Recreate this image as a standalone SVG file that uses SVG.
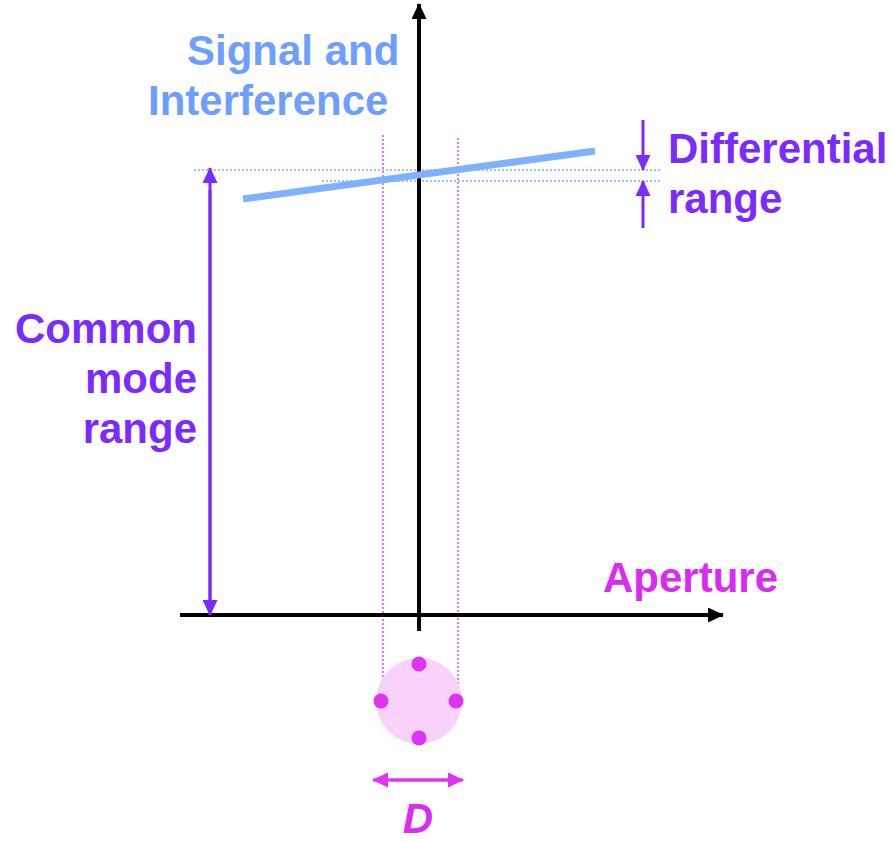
<svg xmlns="http://www.w3.org/2000/svg" width="892" height="841" viewBox="0 0 892 841">
<style>
text{font-family:"Liberation Sans",Arial,sans-serif;font-weight:bold;font-size:42px}
.pur{fill:#7b2bff}
.mag{fill:#d92cf2}
.blu{fill:#6e9eff}
.axis{stroke:#000;stroke-width:4;fill:none}
.pl{stroke:#7b2bff;stroke-width:3;fill:none}
.bd{stroke:#7eaaff;stroke-width:1.5;stroke-dasharray:2 2;fill:none}
.md{stroke:#e04cf5;stroke-width:1.5;stroke-dasharray:2 2;fill:none}
</style>
<defs>
<marker id="ak" viewBox="0 0 16 15" markerWidth="16" markerHeight="15" refX="15" refY="7.5" orient="auto" markerUnits="userSpaceOnUse"><path d="M0,0 L16,7.5 L0,15 z" fill="#000"/></marker>
<marker id="ap" viewBox="0 0 16 15" markerWidth="16" markerHeight="15" refX="15" refY="7.5" orient="auto" markerUnits="userSpaceOnUse"><path d="M0,0 L16,7.5 L0,15 z" fill="#7b2bff"/></marker>
<marker id="am" viewBox="0 0 16 15" markerWidth="16" markerHeight="15" refX="15" refY="7.5" orient="auto" markerUnits="userSpaceOnUse"><path d="M0,0 L16,7.5 L0,15 z" fill="#dd33f2"/></marker>
</defs>
<g id="guides">
<line class="bd" x1="194" y1="170" x2="660" y2="170"/>
<line class="bd" x1="322" y1="181" x2="660" y2="181"/>
<line class="md" x1="383" y1="135" x2="383" y2="700"/>
<line class="md" x1="458" y1="138" x2="458" y2="700"/>
</g>
<g id="axes">
<line class="axis" x1="419" y1="631" x2="419" y2="4" marker-end="url(#ak)"/>
<line class="axis" x1="180" y1="615" x2="723" y2="615" marker-end="url(#ak)"/>
</g>
<g id="signal-line">
<line x1="243" y1="199" x2="595" y2="151" stroke="#7eb1ff" stroke-width="7"/>
</g>
<g id="connectors">
<line class="pl" x1="210" y1="600" x2="210" y2="168" marker-end="url(#ap)"/>
<line class="pl" x1="210" y1="190" x2="210" y2="615" marker-end="url(#ap)"/>
<line class="pl" x1="643" y1="120" x2="643" y2="170" marker-end="url(#ap)"/>
<line class="pl" x1="643" y1="228" x2="643" y2="181" marker-end="url(#ap)"/>
<line x1="390" y1="780" x2="463" y2="780" stroke="#dd33f2" stroke-width="3" marker-end="url(#am)"/>
<line x1="450" y1="780" x2="373" y2="780" stroke="#dd33f2" stroke-width="3" marker-end="url(#am)"/>
</g>
<g id="aperture-array">
<circle cx="419" cy="701" r="43" fill="#f9d2fb"/>
<circle cx="419" cy="664" r="7.5" fill="#dd33f2"/>
<circle cx="381" cy="701" r="7.5" fill="#dd33f2"/>
<circle cx="456" cy="701" r="7.5" fill="#dd33f2"/>
<circle cx="419" cy="738" r="7.5" fill="#dd33f2"/>
</g>
<g id="labels">
<text class="blu" x="187" y="65">Signal and</text>
<text class="blu" x="148" y="115">Interference</text>
<text class="pur" x="668" y="163">Differential</text>
<text class="pur" x="668" y="213">range</text>
<text class="pur" x="197" y="343" text-anchor="end">Common</text>
<text class="pur" x="197" y="393" text-anchor="end">mode</text>
<text class="pur" x="197" y="443" text-anchor="end">range</text>
<text class="mag" x="603" y="592">Aperture</text>
<text class="mag" x="418" y="833" text-anchor="middle" font-style="italic" font-size="38">D</text>
</g>
</svg>
